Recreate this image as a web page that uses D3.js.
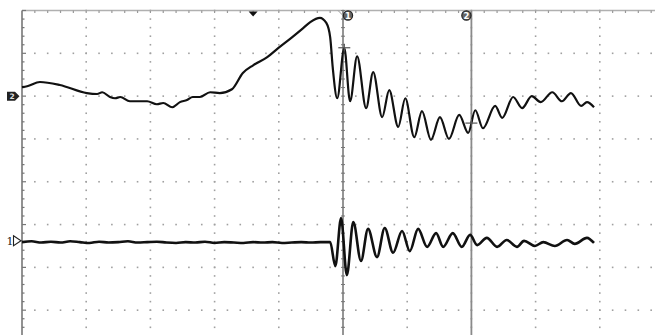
<!DOCTYPE html>
<html><head><meta charset="utf-8">
<script src="https://cdn.jsdelivr.net/npm/d3@7"></script>
<style>html,body{margin:0;padding:0;background:#fff;overflow:hidden}svg{display:block}</style>
</head><body>
<script>
// Oscilloscope screen: 10 x 8 divisions (values in divisions)
const ch2Time = [0.00,0.08,0.28,0.59,1.01,1.17,1.25,1.37,1.45,1.53,1.68,1.95,2.10,2.20,2.34,2.46,2.57,2.66,2.77,2.93,3.08,3.27,3.44,3.60,3.82,3.99,4.21,4.38,4.49,4.64,4.74,4.80,4.84,4.91,5.02,5.11,5.22,5.36,5.47,5.61,5.72,5.86,5.97,6.11,6.23,6.37,6.51,6.65,6.81,6.95,7.06,7.18,7.37,7.48,7.65,7.79,7.94,8.08,8.26,8.41,8.55,8.71,8.80,8.91];
const ch2Value = [2.21,2.23,2.33,2.26,2.07,2.05,2.09,1.98,1.95,1.98,1.88,1.88,1.81,1.84,1.74,1.86,1.91,1.98,1.98,2.09,2.07,2.16,2.54,2.72,2.91,3.12,3.38,3.59,3.73,3.83,3.71,3.38,2.67,1.95,3.12,1.88,2.93,1.72,2.56,1.51,2.14,1.28,1.95,1.04,1.65,0.98,1.51,1.00,1.56,1.14,1.67,1.25,1.77,1.49,1.98,1.72,2.00,1.86,2.09,1.88,2.07,1.77,1.86,1.74];
const ch1Time = [0,0.15,0.3,0.45,0.6,0.75,0.9,1.05,1.2,1.35,1.5,1.65,1.8,1.95,2.1,2.25,2.4,2.55,2.7,2.85,3.0,3.15,3.3,3.45,3.6,3.75,3.9,4.05,4.2,4.35,4.5,4.65,4.80,4.88,4.97,5.06,5.16,5.28,5.39,5.53,5.65,5.78,5.92,6.04,6.17,6.31,6.45,6.56,6.71,6.85,6.98,7.09,7.24,7.40,7.55,7.71,7.82,7.99,8.12,8.30,8.49,8.61,8.80,8.91];
const ch1Value = [-1.41,-1.39,-1.42,-1.40,-1.42,-1.39,-1.41,-1.43,-1.40,-1.42,-1.41,-1.39,-1.42,-1.41,-1.40,-1.42,-1.43,-1.41,-1.42,-1.40,-1.43,-1.41,-1.42,-1.43,-1.41,-1.42,-1.41,-1.43,-1.42,-1.41,-1.42,-1.41,-1.41,-1.97,-0.85,-2.18,-0.94,-1.85,-1.10,-1.76,-1.08,-1.66,-1.15,-1.62,-1.10,-1.52,-1.20,-1.52,-1.20,-1.52,-1.24,-1.48,-1.31,-1.52,-1.36,-1.52,-1.38,-1.50,-1.41,-1.50,-1.36,-1.45,-1.31,-1.43];
const cursorTimes = [5.0, 7.0];
const cursorLabels = ["1", "2"];
const markerPoints = [[5.02, 3.13], [7.0, 1.37]];
const channelLevels = [2.0, -1.38];
const triggerTime = 3.6;

const W = 655, H = 335;
const x = d3.scaleLinear().domain([0, 10]).range([22, 664]);
const y = d3.scaleLinear().domain([-4, 4]).range([353, 10.5]);

const svg = d3.select("body").append("svg").attr("width", W).attr("height", H);

const g = svg.append("g");
const hMinor = d3.range(0.2, 10.001, 0.2);
const vMinor = d3.range(-4, 4.001, 0.2);
[-3,-2,-1,0,1,2,3].forEach(v => {
  g.selectAll(null).data(hMinor).enter().append("rect")
    .attr("x", d => x(d) - 0.8).attr("y", y(v) - 0.8)
    .attr("width", 1.6).attr("height", 1.6).attr("fill", "#a0a0a0");
});
d3.range(1, 10).forEach(t => {
  g.selectAll(null).data(vMinor).enter().append("rect")
    .attr("x", x(t) - 0.8).attr("y", d => y(d) - 0.8)
    .attr("width", 1.6).attr("height", 1.6).attr("fill", "#a0a0a0");
});
svg.append("line").attr("x1", x(0)).attr("x2", W).attr("y1", y(4)).attr("y2", y(4))
  .attr("stroke", "#b0b0b0").attr("stroke-width", 1.5);
svg.append("line").attr("x1", x(0)).attr("x2", x(0)).attr("y1", y(4)).attr("y2", H)
  .attr("stroke", "#777").attr("stroke-width", 1.6);
svg.selectAll(null).data(vMinor).enter().append("line")
  .attr("x1", x(0)).attr("x2", d => x(0) + (Math.abs(d - Math.round(d)) < 1e-6 ? 4 : 2.5))
  .attr("y1", d => y(d)).attr("y2", d => y(d)).attr("stroke", "#777").attr("stroke-width", 1.2);
svg.selectAll(null).data(hMinor).enter().append("line")
  .attr("x1", d => x(d)).attr("x2", d => x(d)).attr("y1", y(4)).attr("y2", y(4) + 2.5)
  .attr("stroke", "#999").attr("stroke-width", 1.2);

cursorTimes.forEach((t, i) => {
  svg.append("line").attr("x1", x(t)).attr("x2", x(t)).attr("y1", y(4)).attr("y2", H)
    .attr("stroke", "#8a8a8a").attr("stroke-width", 1.8);
});
svg.selectAll(null).data(vMinor).enter().append("line")
  .attr("x1", x(5) - 2).attr("x2", x(5) + 2)
  .attr("y1", d => y(d)).attr("y2", d => y(d)).attr("stroke", "#777").attr("stroke-width", 1);
svg.append("line").attr("x1", x(5) - 5).attr("y1", y(4)).attr("x2", x(5)).attr("y2", y(4) + 5)
  .attr("stroke", "#999").attr("stroke-width", 1);
cursorTimes.forEach((t, i) => {
  const cx = x(t) + (i === 0 ? 5 : -5);
  svg.append("circle").attr("cx", cx).attr("cy", 15.5).attr("r", 4.6)
    .attr("fill", "#666").attr("stroke", "#222").attr("stroke-width", 1.2);
  svg.append("text").attr("x", cx).attr("y", 18.6).attr("text-anchor", "middle")
    .attr("font-family", "DejaVu Sans").attr("font-weight", "bold").attr("font-size", 8.5)
    .attr("fill", "#fff").text(cursorLabels[i]);
});

const tx = x(triggerTime);
svg.append("path").attr("d", `M${tx - 4.5},${y(4) + 1}L${tx + 4.5},${y(4) + 1}L${tx},${y(4) + 6}Z`).attr("fill", "#111");

const m2 = y(channelLevels[0]);
svg.append("path").attr("d", `M7,${m2 - 4.5}L15,${m2 - 4.5}L19.5,${m2}L15,${m2 + 4.5}L7,${m2 + 4.5}Z`).attr("fill", "#222");
svg.append("text").attr("x", 12).attr("y", m2 + 3).attr("text-anchor", "middle")
  .attr("font-family", "DejaVu Sans").attr("font-weight", "bold").attr("font-size", 7.5).attr("fill", "#ddd").text("2");
const m1 = y(channelLevels[1]);
svg.append("text").attr("x", 10).attr("y", m1 + 4.5).attr("text-anchor", "middle")
  .attr("font-family", "DejaVu Serif").attr("font-size", 11).attr("fill", "#222").text("1");
svg.append("path").attr("d", `M13.5,${m1 - 5}L21,${m1}L13.5,${m1 + 5}Z`).attr("fill", "#fff").attr("stroke", "#222").attr("stroke-width", 1.1);

const line = d3.line().x(d => x(d[0])).y(d => y(d[1])).curve(d3.curveMonotoneX);
const ch2 = ch2Time.map((t, i) => [t, ch2Value[i]]);
const ch1 = ch1Time.map((t, i) => [t, ch1Value[i]]);
svg.append("path").datum(ch2).attr("d", line).attr("fill", "none")
  .attr("stroke", "#111").attr("stroke-width", 2.2).attr("stroke-linejoin", "round");
svg.append("path").datum(ch1).attr("d", line).attr("fill", "none")
  .attr("stroke", "#111").attr("stroke-width", 2.6).attr("stroke-linejoin", "round");

markerPoints.forEach(p => {
  const px = x(p[0]), py = y(p[1]);
  svg.append("line").attr("x1", px - 6).attr("x2", px + 6).attr("y1", py).attr("y2", py)
    .attr("stroke", "#555").attr("stroke-width", 1.2);
  svg.append("line").attr("x1", px).attr("x2", px).attr("y1", py - 4).attr("y2", py + 4)
    .attr("stroke", "#555").attr("stroke-width", 1.2);
});
</script>
</body></html>
